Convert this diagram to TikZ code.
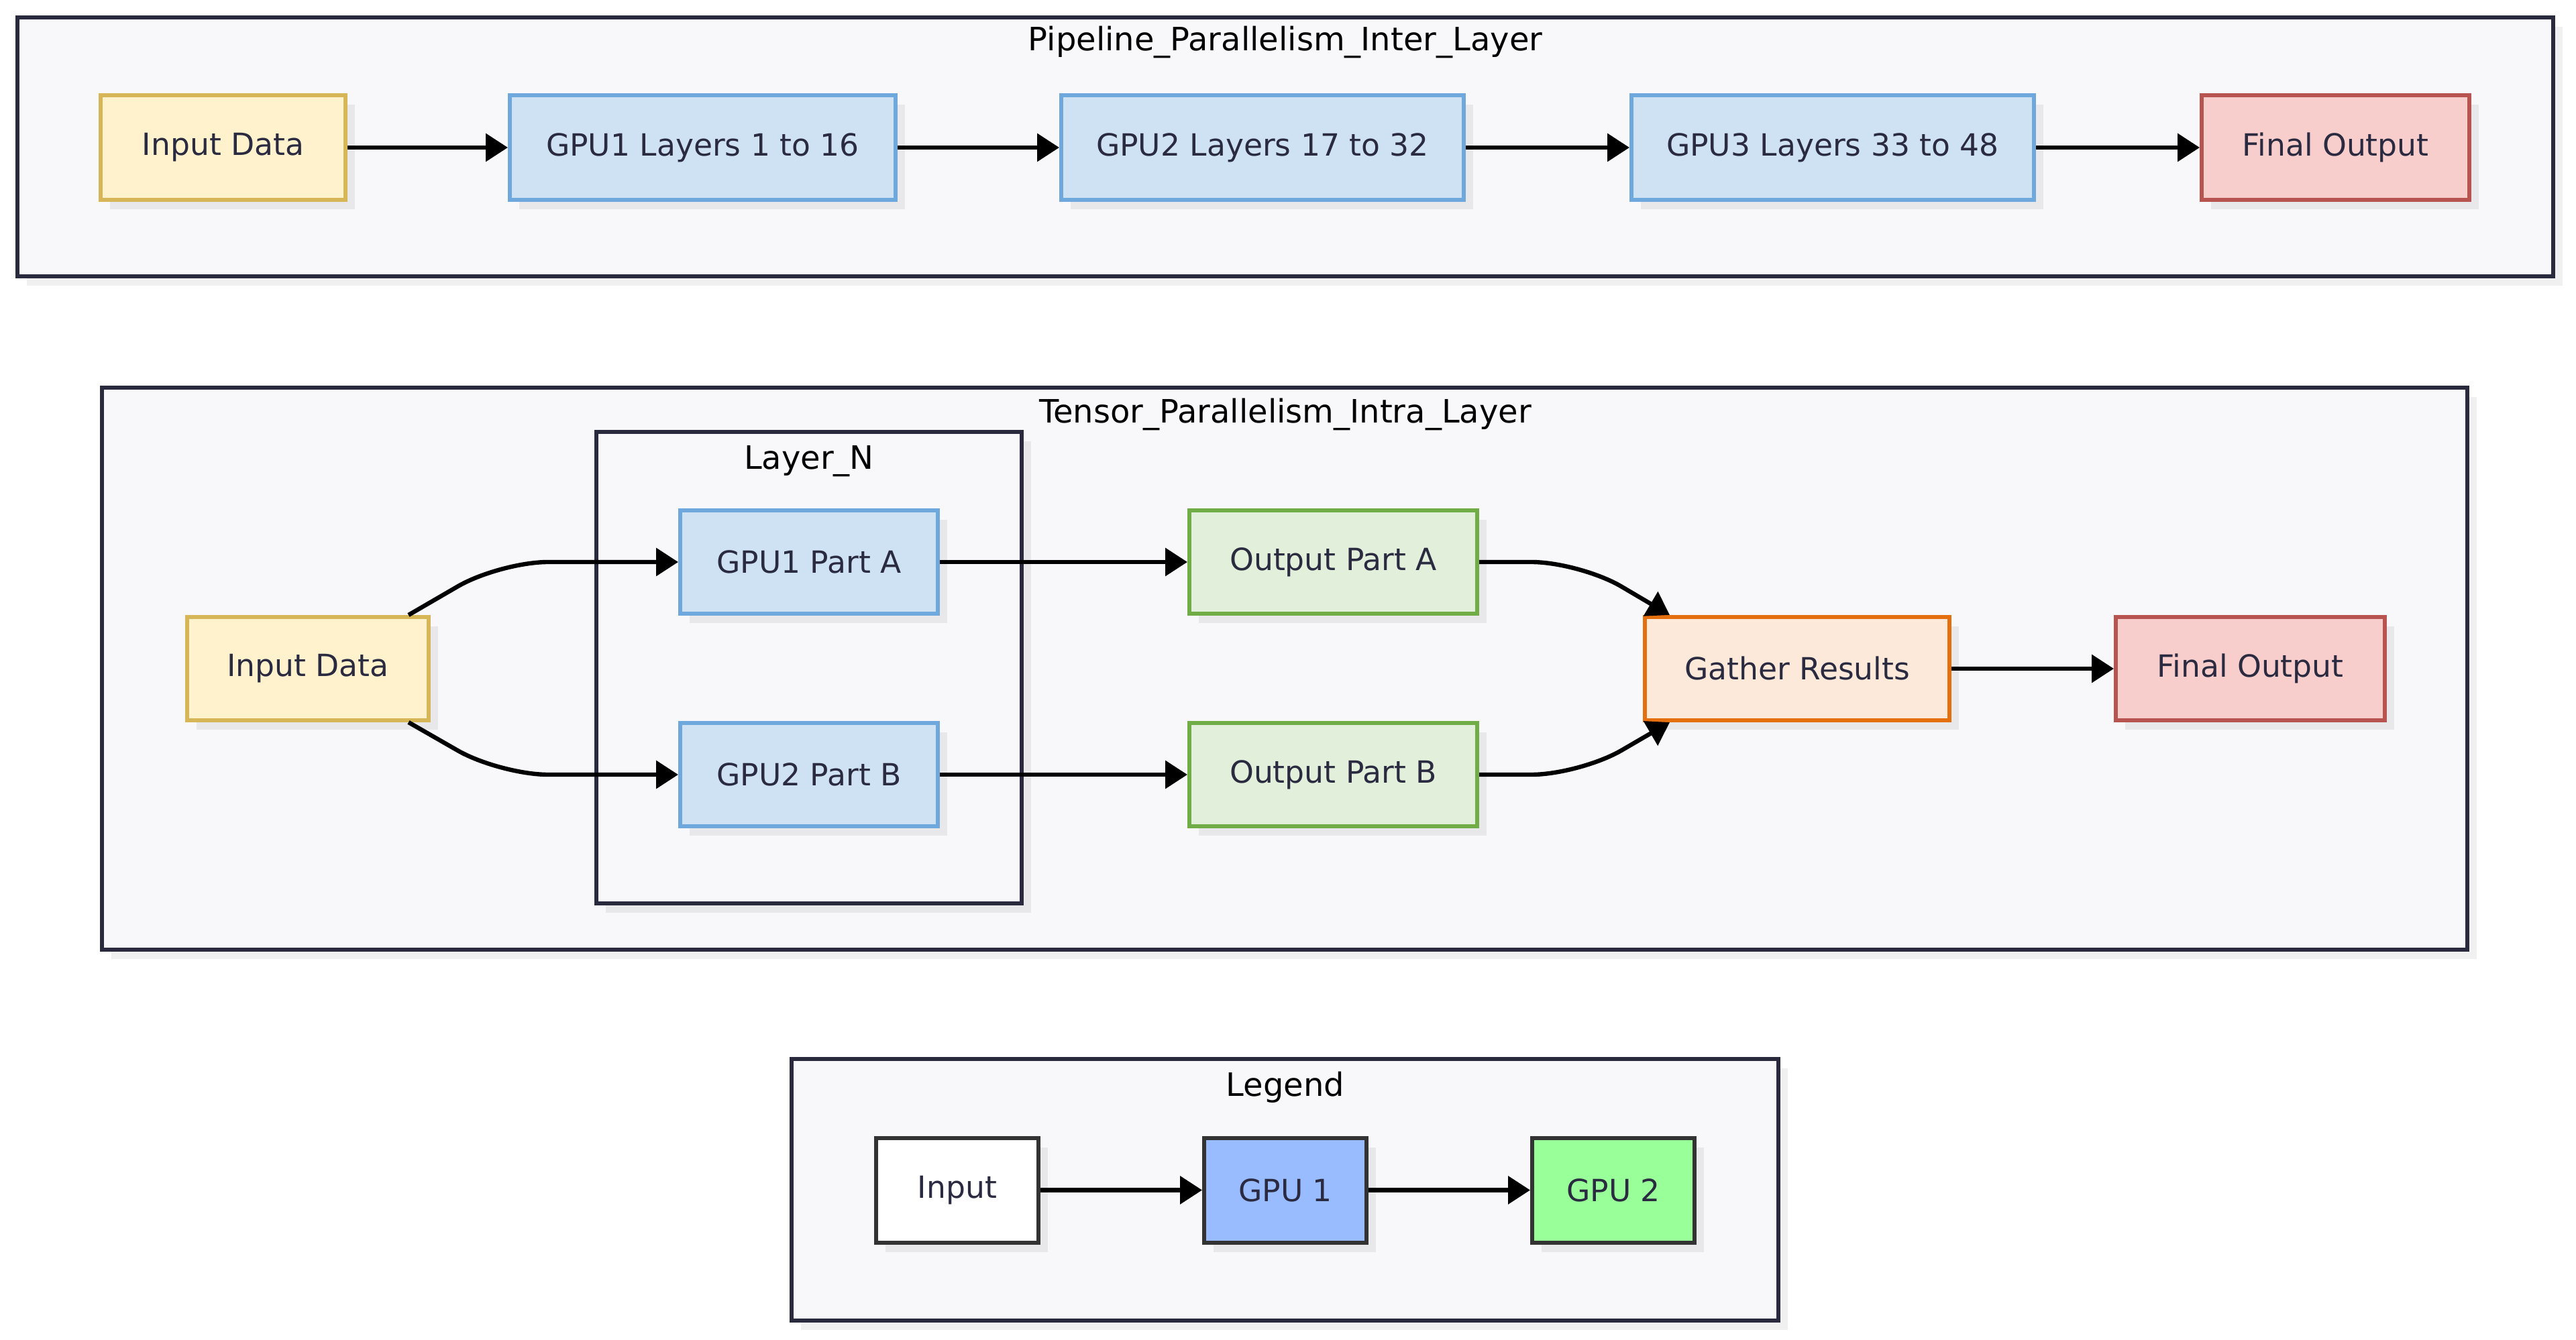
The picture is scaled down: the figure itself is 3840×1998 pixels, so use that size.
\documentclass[tikz,border=0pt]{standalone}
\usepackage{fontspec}
\setmainfont{DejaVu Sans}
\usetikzlibrary{arrows.meta,shadows}
\definecolor{cfill}{HTML}{F8F8FA}
\definecolor{cstroke}{HTML}{2A2A3E}
\definecolor{txt}{HTML}{2A2A40}
\definecolor{shd}{HTML}{E8E8EA}
\definecolor{cshd}{HTML}{F0F0F0}
\definecolor{inF}{HTML}{FFF2CC}
\definecolor{inS}{HTML}{D6B656}
\definecolor{gpF}{HTML}{CFE2F3}
\definecolor{gpS}{HTML}{6FA8DC}
\definecolor{ouF}{HTML}{E2EFDA}
\definecolor{ouS}{HTML}{71AD47}
\definecolor{gaF}{HTML}{FCE9DA}
\definecolor{gaS}{HTML}{E46F0E}
\definecolor{fiF}{HTML}{F8CECC}
\definecolor{fiS}{HTML}{B85450}
\definecolor{lgS}{HTML}{333333}
\definecolor{l1F}{HTML}{99BBFF}
\definecolor{l2F}{HTML}{99FF99}
\tikzset{
  container/.style={draw=cstroke, fill=cfill, line width=1.5pt, rectangle, inner sep=0pt,
    general shadow={fill=cshd, shadow xshift=3.5pt, shadow yshift=-3.5pt}},
  subbox/.style={draw=cstroke, fill=cfill, line width=1.5pt, rectangle, inner sep=0pt,
    general shadow={fill=shd, shadow xshift=3.5pt, shadow yshift=-3.5pt}},
  ctitle/.style={anchor=base, text=black, font=\fontsize{12pt}{14pt}\selectfont, inner sep=0pt},
  box/.style={rectangle, line width=1.5pt, text=txt, font=\fontsize{11.4pt}{14pt}\selectfont,
    minimum height=38.5pt, inner sep=0pt,
    general shadow={fill=shd, shadow xshift=3.5pt, shadow yshift=-3.5pt}},
  inbox/.style={box, draw=inS, fill=inF},
  gpubox/.style={box, draw=gpS, fill=gpF},
  outbox/.style={box, draw=ouS, fill=ouF},
  gatherbox/.style={box, draw=gaS, fill=gaF},
  finalbox/.style={box, draw=fiS, fill=fiF},
  legbox/.style={box, draw=lgS, minimum width=60.5pt, minimum height=39pt},
  arr/.style={draw=black, line width=1.6pt, -{Triangle[length=8.25pt, width=10.25pt]}},
}
\begin{document}
\begin{tikzpicture}[x=0.25pt, y=-0.25pt]
\useasboundingbox (0,0) rectangle (3840,1998);
% containers
\node[container, minimum width=945pt, minimum height=96.5pt] (c1) at (1916,219) {};
\node[ctitle] (t1) at (1916,76) {Pipeline\_Parallelism\_Inter\_Layer};
\node[container, minimum width=881.5pt, minimum height=209.5pt] (c2) at (1915,997) {};
\node[ctitle] (t2) at (1916,631) {Tensor\_Parallelism\_Intra\_Layer};
\node[subbox, minimum width=158.5pt, minimum height=175.75pt] (ln) at (1206,995.5) {};
\node[ctitle] (t3) at (1206,700) {Layer\_N};
\node[container, minimum width=367.75pt, minimum height=97.5pt] (c3) at (1915.5,1774) {};
\node[ctitle] (t4) at (1916,1634) {Legend};
% row 1
\node[inbox, minimum width=91.25pt, minimum height=39pt] (in1) at (332.5,220) {Input Data};
\node[gpubox, minimum width=143.75pt, minimum height=39pt] (g1) at (1047.5,220) {GPU1 Layers 1 to 16};
\node[gpubox, minimum width=150pt, minimum height=39pt] (g2) at (1882,220) {GPU2 Layers 17 to 32};
\node[gpubox, minimum width=150pt, minimum height=39pt] (g3) at (2732,220) {GPU3 Layers 33 to 48};
\node[finalbox, minimum width=99.75pt, minimum height=39pt] (fo1) at (3481.5,220) {Final Output};
\draw[arr] (in1) -- (g1);
\draw[arr] (g1) -- (g2);
\draw[arr] (g2) -- (g3);
\draw[arr] (g3) -- (fo1);
% row 2
\node[inbox, minimum width=90pt] (in2) at (459,997) {Input Data};
\node[gpubox, minimum width=96pt] (pa) at (1206,838) {GPU1 Part A};
\node[gpubox, minimum width=96pt] (pb) at (1206,1155) {GPU2 Part B};
\node[outbox, minimum width=107.25pt] (oa) at (1987.5,838) {Output Part A};
\node[outbox, minimum width=107.25pt] (ob) at (1987.5,1155) {Output Part B};
\node[gatherbox, minimum width=113.5pt] (ga) at (2679,997) {Gather Results};
\node[finalbox, minimum width=100.25pt] (fo2) at (3354.5,997) {Final Output};
\draw[arr, rounded corners=18pt] ([xshift=-8.25pt]in2.north east) -- ([xshift=-66.5pt]pa.west) -- (pa.west);
\draw[arr, rounded corners=18pt] ([xshift=-8.25pt]in2.south east) -- ([xshift=-66.5pt]pb.west) -- (pb.west);
\draw[arr] (pa) -- (oa);
\draw[arr] (pb) -- (ob);
\draw[arr, rounded corners=18pt] (oa.east) -- ([xshift=37.5pt]oa.east) -- ([xshift=10pt]ga.north west);
\draw[arr, rounded corners=18pt] (ob.east) -- ([xshift=37.5pt]ob.east) -- ([xshift=10pt]ga.south west);
\draw[arr] (ga) -- (fo2);
% legend
\node[legbox, fill=white] (li) at (1427,1774.5) {Input};
\node[legbox, fill=l1F] (l1) at (1916,1774.5) {GPU 1};
\node[legbox, fill=l2F] (l2) at (2405,1774.5) {GPU 2};
\draw[arr] (li) -- (l1);
\draw[arr] (l1) -- (l2);
\end{tikzpicture}
\end{document}
